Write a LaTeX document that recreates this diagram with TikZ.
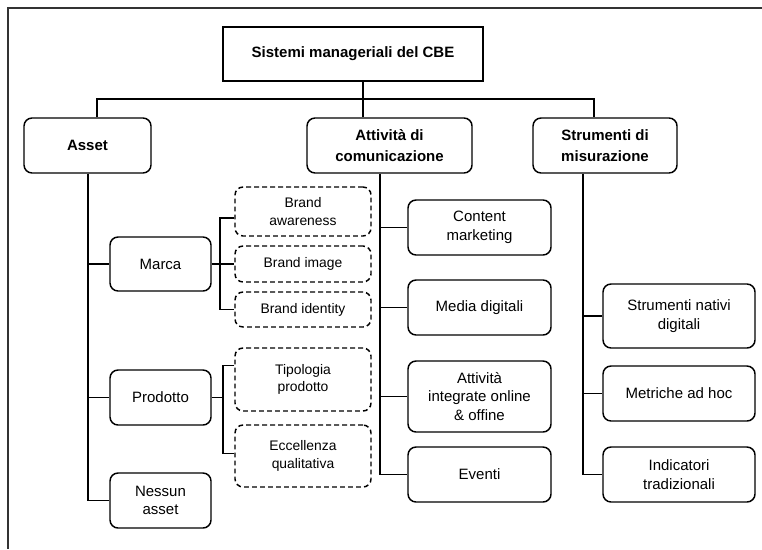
\documentclass[tikz,border=0pt]{standalone}
\usepackage{fontspec}
\setmainfont{Liberation Sans}
\begin{document}
\begin{tikzpicture}[x=0.75pt,y=-0.75pt,
  line width=1.1pt,
  sz/.style 2 args={minimum width=#1*0.75pt, minimum height=#2*0.75pt},
  base/.style={draw, inner sep=0pt, align=center},
  topbox/.style={base, font=\fontsize{11.25}{16}\selectfont\bfseries},
  head/.style={base, rounded corners=6pt, font=\fontsize{11.25}{16}\selectfont\bfseries},
  leaf/.style={base, rounded corners=6pt, font=\fontsize{11.25}{13.9}\selectfont},
  dleaf/.style={base, rounded corners=6pt, dash pattern=on 3.6pt off 2.4pt, font=\fontsize{10.4}{13.3}\selectfont},
  frame/.style={draw=black!80, line width=1pt}
]
\useasboundingbox (0,0) rectangle (762,549);
\draw[frame] (762,8) -- (8,8) -- (8,549);

% level 0 and 1
\node[topbox, sz={260}{54}] (top) at (353,54) {Sistemi manageriali del CBE};
\node[head, sz={127}{55}] (asset) at (87.5,145.5) {Asset};
\node[head, sz={165}{55}] (att) at (389.5,145.5) {Attività di\\comunicazione};
\node[head, sz={144}{55}] (strum) at (605,145.5) {Strumenti di\\misurazione};

% asset children
\node[leaf, sz={101}{54}] (marca) at (160.5,264) {Marca};
\node[leaf, sz={101}{55}] (prodotto) at (160.5,397.5) {Prodotto};
\node[leaf, sz={101}{55}] (nessun) at (160.5,500.5) {Nessun\\asset};

\node[dleaf, sz={136}{49}] (bawar) at (303,211.5) {Brand\\awareness};
\node[dleaf, sz={136}{36}] (bimage) at (303,264) {Brand image};
\node[dleaf, sz={136}{35}] (bident) at (303,309.5) {Brand identity};
\node[dleaf, sz={136}{63}] (tipol) at (303,379.5) {Tipologia\\prodotto};
\node[dleaf, sz={136}{62}] (eccel) at (303,456) {Eccellenza\\qualitativa};

% attivita children
\node[leaf, sz={143}{55}] (content) at (479.5,227.5) {Content\\marketing};
\node[leaf, sz={143}{55}] (media) at (479.5,307.5) {Media digitali};
\node[leaf, sz={143}{71}] (integr) at (479.5,396.5) {Attività\\integrate online\\\& offine};
\node[leaf, sz={143}{55}] (eventi) at (479.5,474.5) {Eventi};

% strumenti children
\node[leaf, sz={152}{64}] (nativi) at (679,316) {Strumenti nativi\\digitali};
\node[leaf, sz={152}{55}] (metriche) at (679,393.5) {Metriche ad hoc};
\node[leaf, sz={152}{55}] (indic) at (679,474.5) {Indicatori\\tradizionali};

% bus
\coordinate (busL) at (97,99);
\coordinate (busR) at (594,99);
\coordinate (mid) at (363,99);
\draw (asset.north -| busL) |- (busR) -- (strum.north -| busR);
\draw (top.south -| mid) -- (att.north -| mid);

% asset trunk
\coordinate (aT) at (88,0);
\draw (asset.south -| aT) |- (nessun.west);
\draw (aT |- marca.west) -- (marca.west);
\draw (aT |- prodotto.west) -- (prodotto.west);

% marca bracket
\coordinate (mbr) at (220,0);
\coordinate (bawarW) at ([yshift=-4.9pt]bawar.west);
\draw (marca.east) -- (bimage.west);
\draw (bawarW) -- (mbr |- bawarW) -- (mbr |- bident.west) -- (bident.west);

% prodotto bracket
\coordinate (pbr) at (223,0);
\coordinate (tipolW) at ([yshift=10.5pt]tipol.west);
\coordinate (eccelW) at ([yshift=2pt]eccel.west);
\draw (prodotto.east) -- (pbr |- prodotto.east);
\draw (tipolW) -- (pbr |- tipolW) -- (pbr |- eccelW) -- (eccelW);

% attivita trunk
\coordinate (cT) at (380,0);
\draw (att.south -| cT) |- (eventi.west);
\draw (cT |- content.west) -- (content.west);
\draw (cT |- media.west) -- (media.west);
\draw (cT |- integr.west) -- (integr.west);

% strumenti trunk
\coordinate (sT) at (583,0);
\draw (strum.south -| sT) |- (indic.west);
\draw (sT |- nativi.west) -- (nativi.west);
\draw (sT |- metriche.west) -- (metriche.west);
\end{tikzpicture}
\end{document}
